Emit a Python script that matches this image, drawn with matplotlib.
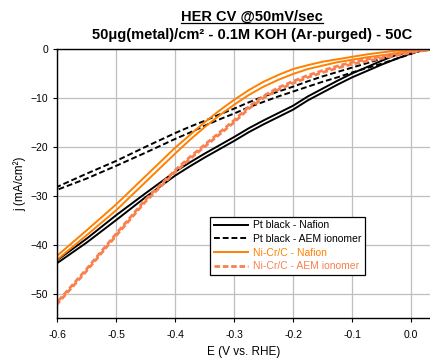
import matplotlib
matplotlib.use("Agg")
import matplotlib.pyplot as plt
from matplotlib.lines import Line2D

plt.rcParams['font.family'] = ['Liberation Sans', 'DejaVu Sans']

# potential grid (V vs RHE), cathodic sweep from right to left
E = [0.03, 0.015, 0.0, -0.025, -0.05, -0.075, -0.1, -0.125, -0.15, -0.175, -0.2, -0.225,
     -0.25, -0.275, -0.3, -0.325, -0.35, -0.375, -0.4, -0.45, -0.5, -0.55, -0.6]

# current density (mA/cm2), two branches of each CV loop
pt_nafion_up = [-0.1, -0.2, -0.5, -1.2, -2.4, -3.7, -5.0, -6.5, -8.1, -9.7, -11.6, -13.1,
                -14.6, -16.2, -18.0, -19.7, -21.4, -23.2, -25.1, -29.5, -34.0, -38.8, -43.2]
pt_nafion_lo = [-0.2, -0.4, -0.9, -2.0, -3.2, -4.5, -5.8, -7.3, -8.9, -10.5, -12.4, -13.9,
                -15.4, -17.0, -18.8, -20.5, -22.2, -24.0, -25.9, -30.3, -35.0, -39.6, -43.8]

pt_aem_up = [-0.1, -0.2, -0.4, -1.0, -2.0, -2.9, -3.8, -4.7, -5.6, -6.6, -7.7, -8.7,
             -9.7, -10.9, -12.2, -13.4, -14.7, -15.9, -17.2, -20.0, -22.9, -25.5, -28.2]
pt_aem_lo = [-0.2, -0.4, -1.0, -2.0, -3.0, -3.9, -4.8, -5.8, -6.7, -7.7, -8.7, -9.7,
             -10.8, -11.9, -13.2, -14.4, -15.7, -17.1, -18.4, -21.2, -23.9, -26.5, -28.8]

nicr_nafion_up = [-0.05, -0.1, -0.2, -0.35, -0.7, -1.1, -1.6, -2.1, -2.6, -3.3, -4.1, -5.3,
                  -6.7, -8.4, -10.4, -12.6, -15.0, -17.6, -20.2, -26.0, -31.8, -37.1, -42.3]
nicr_nafion_lo = [-0.15, -0.3, -0.5, -0.85, -1.3, -1.7, -2.2, -2.7, -3.4, -4.1, -5.1, -6.3,
                  -7.7, -9.4, -11.4, -13.6, -16.0, -18.6, -21.4, -27.2, -33.0, -38.1, -43.1]

nicr_aem_up = [-0.1, -0.2, -0.45, -0.9, -1.5, -2.1, -2.7, -3.5, -4.4, -5.4, -6.6, -7.9,
               -9.6, -11.8, -14.6, -17.1, -19.6, -22.1, -24.8, -30.8, -37.8, -45.0, -51.8]
nicr_aem_lo = [-0.2, -0.4, -0.75, -1.3, -1.9, -2.5, -3.1, -3.9, -4.8, -5.8, -7.0, -8.3,
               -10.0, -12.2, -15.0, -17.5, -20.0, -22.5, -25.2, -31.2, -38.2, -45.4, -52.2]

series = [
    ("Pt black - Nafion", pt_nafion_up, pt_nafion_lo, "black", "-", 1.4),
    ("Pt black - AEM ionomer", pt_aem_up, pt_aem_lo, "black", (0, (3, 1.5)), 1.4),
    ("Ni-Cr/C - Nafion", nicr_nafion_up, nicr_nafion_lo, "#FF8000", "-", 1.4),
    ("Ni-Cr/C - AEM ionomer", nicr_aem_up, nicr_aem_lo, "#F9804F", (0, (2, 1)), 2.0),
]

fig = plt.figure(figsize=(4.3, 3.58), dpi=100)
ax = fig.add_axes([57 / 430, 40 / 358, 373 / 430, 269 / 358])

for label, up, lo, color, ls, lw in series:
    # forward branch then return branch -> closed CV loop
    x = E + E[::-1]
    y = up + lo[::-1]
    ax.plot(x, y, color=color, linestyle=ls, linewidth=lw, label=label)

ax.set_xlim(-0.6, 0.032)
ax.set_ylim(-55, 0)
ax.set_xticks([-0.6, -0.5, -0.4, -0.3, -0.2, -0.1, 0.0])
ax.set_xticklabels(["-0.6", "-0.5", "-0.4", "-0.3", "-0.2", "-0.1", "0.0"])
ax.set_yticks([0, -10, -20, -30, -40, -50])
ax.grid(True, color="#BFBFBF", linewidth=0.9)
ax.set_axisbelow(True)
ax.spines["right"].set_visible(False)
for s in ["left", "top", "bottom"]:
    ax.spines[s].set_linewidth(1.0)
ax.tick_params(axis="both", labelsize=7.5, length=3, width=0.8, direction="out")
ax.tick_params(axis="x", pad=6)

ax.set_xlabel("E (V vs. RHE)", fontsize=8.5, labelpad=4)
ax.set_ylabel("j (mA/cm²)", fontsize=8.5, labelpad=3)

leg = ax.legend(loc="lower left", bbox_to_anchor=(0.41, 0.16), fontsize=7.5,
                frameon=True, fancybox=False, edgecolor="black", framealpha=1,
                handlelength=3.3, borderpad=0.35, labelspacing=0.35, handletextpad=0.5,
                borderaxespad=0)
leg.get_frame().set_linewidth(0.9)
for txt, (_, _, _, color, _, _) in zip(leg.get_texts(), series):
    txt.set_color(color)

t1 = fig.text(252 / 430, 1 - 17 / 358, "HER CV @50mV/sec", ha="center", va="center",
              fontsize=10.5, fontweight="bold")
fig.text(252 / 430, 1 - 35 / 358, "50μg(metal)/cm² - 0.1M KOH (Ar-purged) - 50C",
         ha="center", va="center", fontsize=10.5, fontweight="bold")

# underline the first title line
fig.canvas.draw()
bb = t1.get_window_extent(fig.canvas.get_renderer()).transformed(fig.transFigure.inverted())
fig.add_artist(Line2D([bb.x0, bb.x1], [bb.y0 + 0.004, bb.y0 + 0.004],
                      transform=fig.transFigure, color="black", linewidth=0.9))

fig.savefig("out.png", dpi=100)
